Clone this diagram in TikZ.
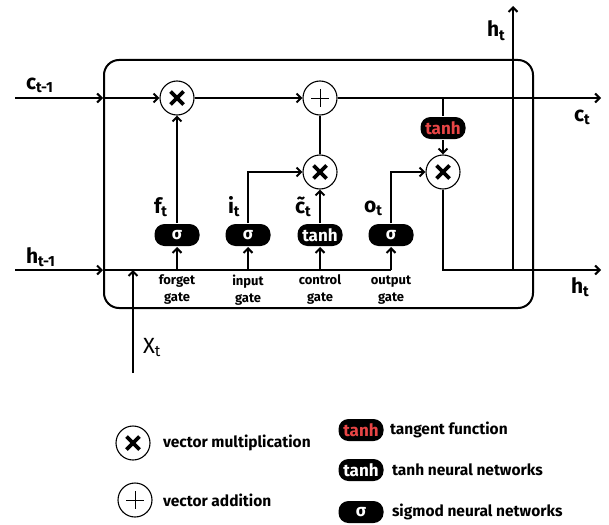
\documentclass[tikz,border=0pt]{standalone}
\usepackage{fontspec}
\setmainfont{Fira Sans}
\usetikzlibrary{arrows.meta}
\definecolor{tanhred}{HTML}{E84545}
\tikzset{
  mult/.style={circle, draw, line width=1.1pt, fill=white, minimum size=34pt, inner sep=0pt,
    path picture={\draw[line width=3.6pt]
      ([shift={(-6.5,-6.5)}]path picture bounding box.center) -- ([shift={(6.5,6.5)}]path picture bounding box.center)
      ([shift={(-6.5,6.5)}]path picture bounding box.center) -- ([shift={(6.5,-6.5)}]path picture bounding box.center);}},
  add/.style={circle, draw, line width=1.1pt, fill=white, minimum size=34pt, inner sep=0pt,
    path picture={\draw[line width=1pt]
      ([shift={(-9,0)}]path picture bounding box.center) -- ([shift={(9,0)}]path picture bounding box.center)
      ([shift={(0,-9)}]path picture bounding box.center) -- ([shift={(0,9)}]path picture bounding box.center);}},
  gatebox/.style={rectangle, rounded corners=10pt, fill=black, text=white, minimum width=45pt,
    minimum height=22pt, inner sep=1pt, font=\fontsize{17}{17}\selectfont\bfseries},
  redbox/.style={gatebox, text=tanhred},
  lbl/.style={anchor=base west, inner sep=0pt, font=\fontsize{21}{21}\selectfont\bfseries},
  gname/.style={align=center, inner sep=0pt, font=\fontsize{13}{17}\selectfont\bfseries},
  legtext/.style={anchor=west, inner sep=0pt, font=\fontsize{15.5}{15.5}\selectfont\bfseries}
}
\begin{document}
\begin{tikzpicture}[x=1pt, y=-1pt, line width=2pt, >={Straight Barb[length=4.5pt,width=9pt]}]
    \useasboundingbox (0,0) rectangle (609,524);
    % Cell
    \node[draw, rounded corners=15pt, minimum width=429pt, minimum height=248pt, inner sep=0pt] (cell) at (318.5,184) {};
    % Points
    \coordinate (cin) at (15,98);
    \coordinate (cout) at (601,98);
    \coordinate (hin) at (15,270);
    \coordinate (hout) at (601,270);
    \coordinate (xin) at (133,373);
    \coordinate (hsplit) at (513,270);
    \coordinate (htop) at (513,6);
    % Operations
    \node[mult] (fmul) at (177,98) {};
    \node[add] (cadd) at (320,98) {};
    \node[mult] (cmul) at (320,172) {};
    \node[mult] (hmul) at (443,172) {};
    \node[redbox] (rtanh) at (443,128) {tanh};
    % Gates
    \node[gatebox] (fg) at (177,235) {σ};
    \node[gatebox] (ig) at (248,235) {σ};
    \node[gatebox] (cg) at (320,235) {tanh};
    \node[gatebox] (og) at (391,235) {σ};
    % Cell state
    \draw[->] (cin) -- (cin -| cell.west);
    \draw[->] (cin -| cell.west) -- (fmul);
    \draw[->] (fmul) -- (cadd);
    \draw[->] (cadd) -- (cout);
    \draw (rtanh.north |- cadd) -- (rtanh);
    \draw[->] (rtanh) -- (hmul);
    \draw (cmul) -- (cadd);
    % Gate outputs
    \draw[->] (fg) -- (fmul);
    \draw[->] (ig.north) |- (cmul.west);
    \draw[->] (cg) -- (cmul);
    \draw[->] (og.north) |- (hmul.west);
    % Hidden state
    \draw[->] (hin) -- (hin -| cell.west);
    \draw (hin -| cell.west) -- (og |- hin);
    \draw[->] (xin) -- (xin |- hin);
    \draw[->] (fg |- hin) -- (fg);
    \draw[->] (ig |- hin) -- (ig);
    \draw[->] (cg |- hin) -- (cg);
    \draw[->] (og |- hin) -- (og);
    \draw[->] (hmul.south) |- (hout);
    \draw[->] (hsplit) -- (htop);
    % Labels
    \node[lbl] (lcin) at (25,89) {c\textsubscript{t-1}};
    \node[lbl] (lhin) at (25,263) {h\textsubscript{t-1}};
    \node[lbl] (lcout) at (573,121) {c\textsubscript{t}};
    \node[lbl] (lhout) at (570,293) {h\textsubscript{t}};
    \node[lbl] (lhtop) at (486,37) {h\textsubscript{t}};
    \node[lbl, font=\fontsize{22}{22}\selectfont] (lxin) at (142,353) {X\textsubscript{t}};
    \node[lbl] (lf) at (153,213) {f\textsubscript{t}};
    \node[lbl] (li) at (227,213) {i\textsubscript{t}};
    \node[lbl] (lc) at (294,213) {\~c\textsubscript{t}};
    \node[lbl] (lo) at (363,212) {o\textsubscript{t}};
    \node[gname] (nf) at (177,290) {forget\\gate};
    \node[gname] (ni) at (248,290) {input\\gate};
    \node[gname] (nc) at (320,290) {control\\gate};
    \node[gname] (no) at (391,290) {output\\gate};
    % Legend
    \node[mult] (kmul) at (133,443) {};
    \node[legtext] (tmul) at (162,443) {vector multiplication};
    \node[add] (kadd) at (135,500) {};
    \node[legtext] (tadd) at (162,500) {vector addition};
    \node[redbox] (kred) at (361,430) {tanh};
    \node[legtext] (tred) at (389,430) {tangent function};
    \node[gatebox] (ktanh) at (361,470) {tanh};
    \node[legtext] (ttanh) at (391,470) {tanh neural networks};
    \node[gatebox] (ksig) at (361,512) {σ};
    \node[legtext] (tsig) at (391,512) {sigmod neural networks};
\end{tikzpicture}
\end{document}
